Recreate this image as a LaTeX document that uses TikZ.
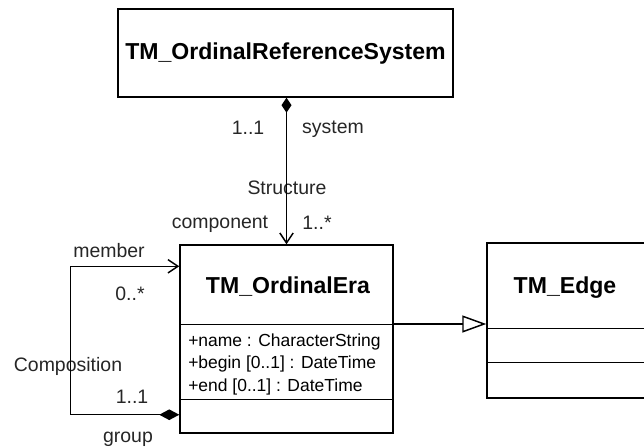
\documentclass[tikz,border=0pt]{standalone}
\usepackage{fontspec}
\setmainfont{Liberation Sans}
\usetikzlibrary{arrows.meta}

\begin{document}
\begin{tikzpicture}[x=0.75pt, y=-0.75pt,
    caja/.style={draw, line width=1.1pt, inner sep=0pt},
    linea/.style={line width=1.1pt},
    titulo/.style={font=\fontsize{17.3}{20}\selectfont\bfseries, anchor=base, inner sep=0pt},
    atributo/.style={font=\fontsize{13.1}{16}\selectfont, anchor=base west, inner sep=0pt},
    etiqueta/.style={font=\fontsize{14.6}{17}\selectfont, anchor=base, inner sep=0pt, text=black!85}]

% ================================================================
%  Lienzo 644 x 447 (unidades = pixeles, eje y hacia abajo)
% ================================================================
\useasboundingbox (0,0) rectangle (644,447);
\clip (0,0) rectangle (644,447);

% Clases (cajas)
\node[caja, minimum width=251.25pt, minimum height=66pt]     (ors)  at (285.5, 53)  {};
\node[caja, minimum width=159.75pt, minimum height=141pt]    (oe)   at (286.5, 339) {};
\node[caja, minimum width=120.75pt, minimum height=116.25pt] (edge) at (567.5, 320.5) {};

% Compartimentos
\foreach \nodo/\d in {oe/60pt, oe/116.25pt, edge/64.5pt, edge/90pt}{
    \draw[linea] ([yshift=-\d]\nodo.north west) -- ([yshift=-\d]\nodo.north east);
}

% Nombres de clase
\node[titulo] (orsT)  at (285.5, 59) {TM\_OrdinalReferenceSystem};
\node[titulo] (oeT)   at (288, 293)  {TM\_OrdinalEra};
\node[titulo] (edgeT) at (565, 293)  {TM\_Edge};

% Atributos de TM_OrdinalEra
\node[atributo] (attName)  at (188, 346)   {+name : CharacterString};
\node[atributo] (attBegin) at (188, 368.5) {+begin [0..1] : DateTime};
\node[atributo] (attEnd)   at (188, 391)   {+end [0..1] : DateTime};

% ================================================================
%  Asociaciones
% ================================================================
% Structure (composicion vertical)
\node[etiqueta] (multSys)  at (248, 134) {1..1};
\node[etiqueta] (rolSys)   at (333, 133) {system};
\node[etiqueta] (nomStr)   at (287, 194) {Structure};
\node[etiqueta] (rolComp)  at (220, 228) {component};
\node[etiqueta] (multComp) at (317, 229) {1..*};
\draw[linea, {Diamond[length=11.25pt, width=7.5pt]}-{Straight Barb[length=7.5pt, width=10pt]}]
    (oe.north |- ors.south) -- (oe.north);

% Composition (lazo sobre TM_OrdinalEra)
\node[etiqueta] (rolMem)   at (109, 257) {member};
\node[etiqueta] (multMem)  at (130, 300) {0..*};
\node[etiqueta] (nomComp)  at (68, 371)  {Composition};
\node[etiqueta] (multGrp)  at (132, 403) {1..1};
\node[etiqueta] (rolGrp)   at (128, 442) {group};
\draw[linea, {Diamond[length=15pt, width=8pt]}-{Straight Barb[length=7.5pt, width=10pt]}]
    ([yshift=14.25pt]oe.south west) -- ++(-109,0) |- ([yshift=-16.5pt]oe.north west);

% Generalizacion TM_OrdinalEra -> TM_Edge
\draw[linea, -{Triangle[open, length=18pt, width=12.75pt, fill=white]}]
    ([yshift=11.25pt]oe.east) -- ([yshift=11.25pt]oe.east -| edge.west);

\end{tikzpicture}
\end{document}
